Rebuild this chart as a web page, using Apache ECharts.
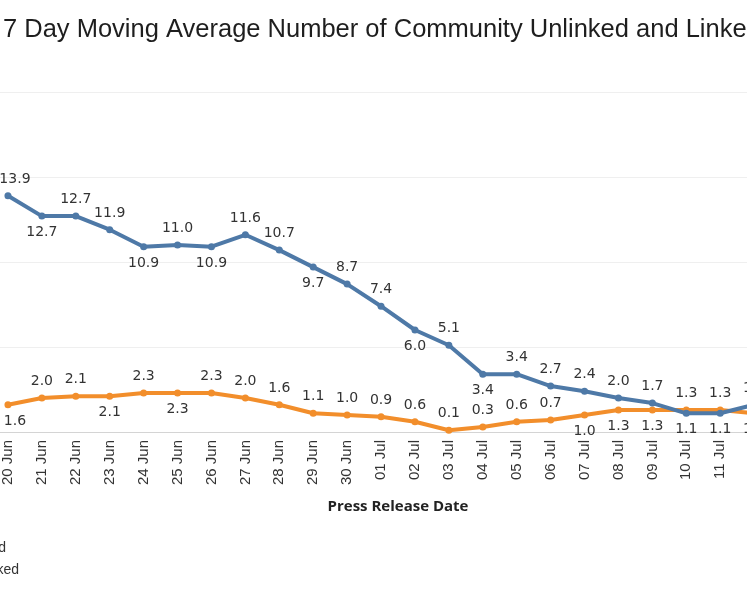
<!DOCTYPE html>
<html>
<head>
<meta charset="utf-8">
<script src="https://cdn.jsdelivr.net/npm/echarts@6/dist/echarts.min.js"></script>
<style>
html,body{margin:0;padding:0;width:747px;height:598px;overflow:hidden;background:#fff;}
#chart{position:absolute;left:-200px;top:0;width:1047px;height:598px;}
</style>
</head>
<body>
<div id="chart"></div>
<script>
const categories = ['20 Jun','21 Jun','22 Jun','23 Jun','24 Jun','25 Jun','26 Jun','27 Jun','28 Jun','29 Jun','30 Jun','01 Jul','02 Jul','03 Jul','04 Jul','05 Jul','06 Jul','07 Jul','08 Jul','09 Jul','10 Jul','11 Jul','12 Jul','13 Jul'];
const linkedValues = [13.9,12.7,12.7,11.9,10.9,11.0,10.9,11.6,10.7,9.7,8.7,7.4,6.0,5.1,3.4,3.4,2.7,2.4,2.0,1.7,1.1,1.1,1.6,1.6];
const unlinkedValues = [1.6,2.0,2.1,2.1,2.3,2.3,2.3,2.0,1.6,1.1,1.0,0.9,0.6,0.1,0.3,0.6,0.7,1.0,1.3,1.3,1.3,1.3,1.1,1.1];
const yTicks = [0,5,10,15,20];

const linkedLabelPos = ['top','bottom','top','top','bottom','top','bottom','top','top','bottom','top','top','bottom','top','bottom','top','top','top','top','top','bottom','bottom','top','top'];
const unlinkedLabelPos = ['bottom','top','top','bottom','top','bottom','top','top','top','top','top','top','top','top','top','top','top','bottom','bottom','bottom','top','top','bottom','bottom'];

const chart = echarts.init(document.getElementById('chart'), null, {renderer:'canvas'});
const labelStyle = {show:true, fontFamily:'DejaVu Sans', fontSize:14, color:'#333', distance:6,
  formatter: p => p.value.toFixed(1)};
function mk(vals, pos){
  return vals.map((v,i)=>({value:v, label:{position:pos[i], offset:i===0?[7,0]:[0,0]}}));
}
chart.setOption({
  animation:false,
  title:{text:'7 Day Moving Average Number of Community Unlinked and Linked Cases',
    left:198, top:12, textStyle:{fontFamily:'Liberation Sans', fontWeight:'normal', fontSize:25.5, color:'#1e1e1e'}},
  legend:{orient:'vertical', left:59, top:541, padding:0, itemGap:8, itemWidth:25, itemHeight:14,
    textStyle:{fontFamily:'Liberation Sans', fontSize:14, color:'#333'},
    data:['Community Linked','Community Unlinked']},
  grid:{left:191, width:814, top:92, height:340},
  xAxis:{type:'category', data:categories, boundaryGap:true,
    name:'Press Release Date', nameLocation:'middle', nameGap:67,
    nameTextStyle:{fontFamily:'Open Sans', fontWeight:'bold', fontSize:15, color:'#222'},
    axisLine:{lineStyle:{color:'#d4d4d4', width:1}},
    axisTick:{alignWithLabel:true, length:5, lineStyle:{color:'#999'}},
    axisLabel:{rotate:90, fontFamily:'Liberation Sans', fontSize:15, color:'#333', margin:8}},
  yAxis:{type:'value', min:yTicks[0], max:yTicks[yTicks.length-1], interval:5,
    axisLine:{show:false}, axisTick:{show:false},
    axisLabel:{fontFamily:'Liberation Sans', fontSize:13, color:'#333'},
    splitLine:{lineStyle:{color:'#efefef', width:1}}},
  series:[
    {name:'Community Linked', type:'line', data:mk(linkedValues, linkedLabelPos),
      color:'#4e79a7', lineStyle:{width:4, color:'#4e79a7'}, symbol:'circle', symbolSize:7,
      itemStyle:{color:'#4e79a7'}, label:labelStyle, z:3},
    {name:'Community Unlinked', type:'line', data:mk(unlinkedValues, unlinkedLabelPos),
      color:'#f28e2b', lineStyle:{width:4, color:'#f28e2b'}, symbol:'circle', symbolSize:7,
      itemStyle:{color:'#f28e2b'}, label:labelStyle, z:2}
  ]
});
</script>
</body>
</html>
